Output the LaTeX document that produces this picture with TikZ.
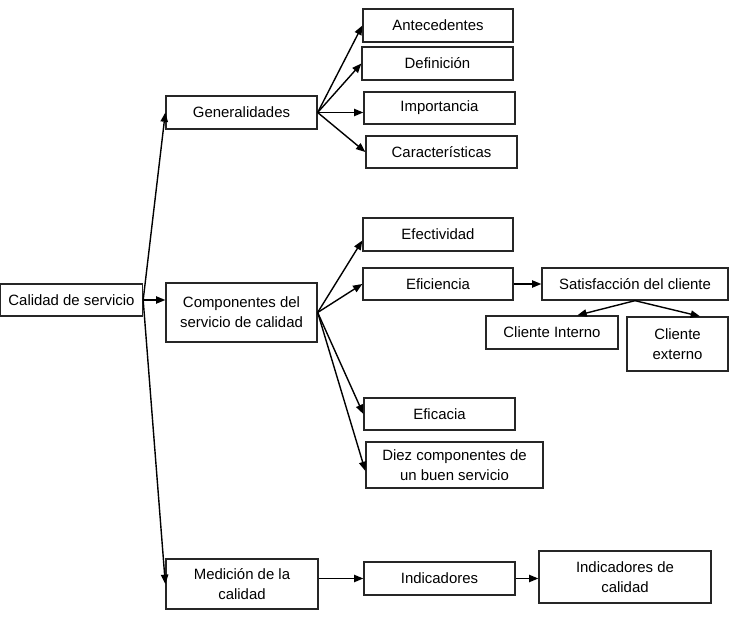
\documentclass[tikz,border=0pt]{standalone}
\usepackage{fontspec}
\setmainfont{Liberation Sans}
\usetikzlibrary{arrows.meta,calc}
\definecolor{boxline}{HTML}{262626}
\tikzset{
  >={Triangle[length=7pt,width=5.5pt]},
  % rutor
  box/.style={draw=boxline,line width=1pt,fill=white,inner sep=1pt,align=center,
              font=\fontsize{11.2}{15}\selectfont},
  wh/.style 2 args={minimum width=#1*0.75pt,minimum height=#2*0.75pt},
  % pilar
  pil/.style={->,draw=black,line width=1.05pt},
}

\begin{document}
\begin{tikzpicture}[x=0.75pt,y=-0.75pt]
  \useasboundingbox (0,0) rectangle (729,634);
  % nivå 1 och 2
  \node[box,wh={142}{32}] (cal) at (71.5,300) {Calidad de servicio};
  \node[box,wh={151}{33}] (gen) at (241.5,112.5) {Generalidades};
  \node[box,wh={151}{59}] (comp) at (241.5,312.5) {Componentes del\\servicio de calidad};
  \node[box,wh={152}{50}] (med) at (242,584) {Medición de la\\calidad};
  % generalidades
  \node[box,wh={150}{33}] (ant) at (438,25.5) {Antecedentes};
  \node[box,wh={151}{33}] (def) at (437.5,63.5) {Definición};
  \node[box,wh={151}{32}] (imp) at (439.5,108) {Importancia};
  \node[box,wh={151}{32}] (car) at (441.5,152) {Características};
  % componentes
  \node[box,wh={150}{33}] (efe) at (438,234.5) {Efectividad};
  \node[box,wh={150}{32}] (efi) at (438,284) {Eficiencia};
  \node[box,wh={186}{32}] (sat) at (635,284) {Satisfacción del cliente};
  \node[box,wh={132}{33}] (cin) at (552,332.5) {Cliente Interno};
  \node[box,wh={101}{54}] (cex) at (677.5,344) {Cliente\\externo};
  \node[box,wh={151}{32}] (efa) at (439.5,414) {Eficacia};
  \node[box,wh={177}{46}] (diez) at (454.5,465) {Diez componentes de\\un buen servicio};
  % medición
  \node[box,wh={151}{33}] (ind) at (439.5,578.5) {Indicadores};
  \node[box,wh={172}{52}] (idc) at (625,577) {Indicadores de\\calidad};

  \draw[pil] (cal.east) -- (gen.west);
  \draw[pil] (cal.east) -- (cal.east -| comp.west);
  \draw[pil] (cal.east) -- (med.west);

  \draw[pil] (gen.east) -- (ant.west);
  \draw[pil] (gen.east) -- (def.west);
  \draw[pil] (gen.east) -- (gen.east -| imp.west);
  \draw[pil] (gen.east) -- (car.west);

  \draw[pil] (comp.east) -- ($(efe.west)+(0,6)$);
  \draw[pil] (comp.east) -- (efi.west);
  \draw[pil] (comp.east) -- (efa.west);
  \draw[pil] (comp.east) -- ($(diez.west)+(0,6)$);
  \draw[pil] (efi.east) -- (sat.west);
  \draw[pil] (sat.south) -- ($(cin.north)!0.38!(cin.north east)$);
  \draw[pil] (sat.south) -- ($(cex.north)!0.44!(cex.north east)$);

  \draw[pil] (ind.west -| med.east) -- (ind.west);
  \draw[pil] (ind.east) -- (ind.east -| idc.west);
\end{tikzpicture}
\end{document}
